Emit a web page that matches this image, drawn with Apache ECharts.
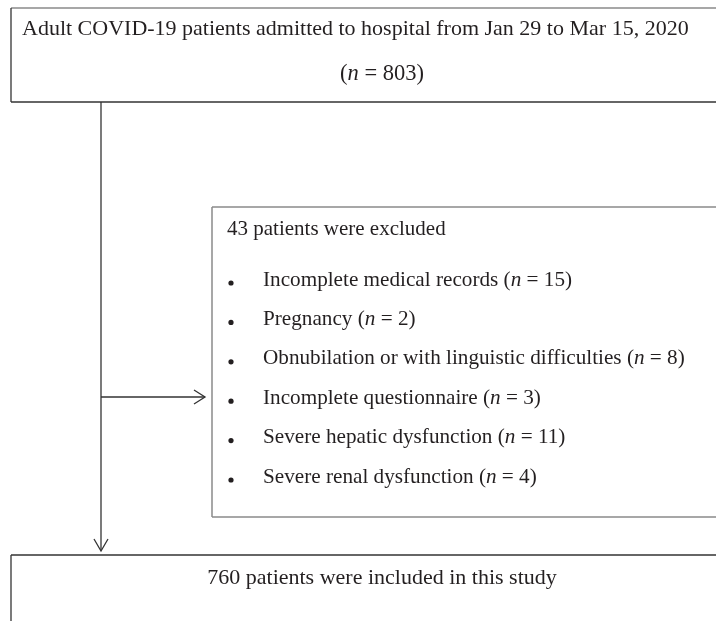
<!DOCTYPE html>
<html>
<head>
<meta charset="utf-8">
<script src="https://cdn.jsdelivr.net/npm/echarts@6/dist/echarts.min.js"></script>
<style>html,body{margin:0;padding:0;background:#fff}#c{width:716px;height:621px}</style>
</head>
<body>
<div id="c"></div>
<script>
const admittedLabel = 'Adult COVID-19 patients admitted to hospital from Jan 29 to Mar 15, 2020';
const admittedN = 803;
const excludedTotal = 43;
const exclusionReasons = ['Incomplete medical records', 'Pregnancy', 'Obnubilation or with linguistic difficulties', 'Incomplete questionnaire', 'Severe hepatic dysfunction', 'Severe renal dysfunction'];
const exclusionCounts = [15, 2, 8, 3, 11, 4];
const includedN = 760;

const FONT = '"Liberation Serif", "Times New Roman", serif';
const TXT = '#231f20';
function txt(x, y, text, align, fs) {
  return { type: 'text', x: x, y: y, silent: true,
    style: { text: text, fontFamily: FONT, fontSize: fs, fill: TXT, align: align || 'left', verticalAlign: 'middle',
      rich: { i: { fontStyle: 'italic', fontFamily: FONT, fontSize: fs, fill: TXT } } } };
}
function line(x1, y1, x2, y2, color, w) {
  return { type: 'line', silent: true, shape: { x1, y1, x2, y2 }, style: { stroke: color, lineWidth: w || 1.3 } };
}
function poly(points, color) {
  return { type: 'polyline', silent: true, shape: { points: points }, style: { stroke: color, lineWidth: 1.3, fill: null } };
}

const els = [];
// top box
els.push(line(11, 8, 716, 8, '#8a8a8a', 1.5));
els.push(line(11, 8, 11, 102, '#333', 1.3));
els.push(line(11, 102, 716, 102, '#333', 1.3));
els.push(txt(22, 29, admittedLabel, 'left', 22));
els.push(txt(382, 74, '({i|n} = ' + admittedN + ')', 'center', 22.5));
// main vertical arrow
els.push(line(101, 102, 101, 550, '#333'));
els.push(poly([[94, 539], [101, 551], [108, 539]], '#333'));
// horizontal arrow
els.push(line(101, 397, 205, 397, '#333'));
els.push(poly([[194, 390], [205, 397], [194, 404]], '#333'));
// exclusion box
els.push(line(212, 207, 716, 207, '#8a8a8a', 1.5));
els.push(line(212, 207, 212, 517, '#8a8a8a', 1.5));
els.push(line(212, 517, 716, 517, '#8a8a8a', 1.5));
els.push(txt(227, 229, excludedTotal + ' patients were excluded', 'left', 21));
const rowY0 = 280, rowStep = 39.4;
exclusionReasons.forEach(function (r, k) {
  const y = rowY0 + k * rowStep;
  els.push({ type: 'circle', silent: true, shape: { cx: 231, cy: y + 3, r: 2.6 }, style: { fill: TXT } });
  els.push(txt(263, y, r + ' ({i|n} = ' + exclusionCounts[k] + ')', 'left', 21.2));
});
// bottom box
els.push(line(11, 555, 716, 555, '#333', 1.3));
els.push(line(11, 555, 11, 621, '#333', 1.3));
els.push(txt(382, 578, includedN + ' patients were included in this study', 'center', 22));

const chart = echarts.init(document.getElementById('c'), null, { renderer: 'canvas' });
chart.setOption({ animation: false, graphic: { elements: els } });
</script>
</body>
</html>
